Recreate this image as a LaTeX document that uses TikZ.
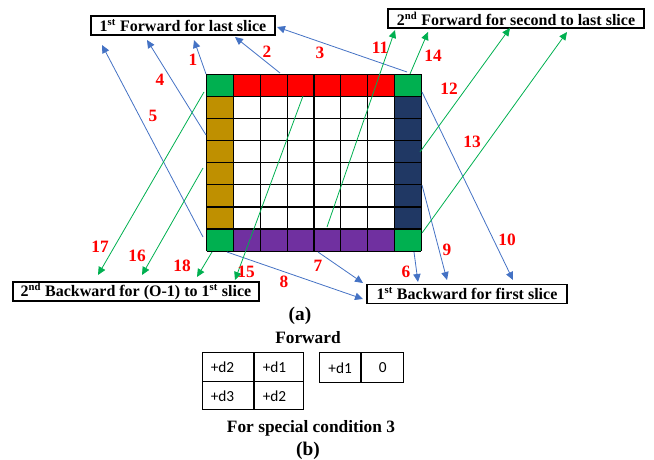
\documentclass[tikz,border=0pt]{standalone}
\usepackage{fontspec}
\setmainfont{Liberation Serif}
\newfontfamily\tabfont{Carlito}
\usetikzlibrary{arrows.meta}
\definecolor{cgreen}{HTML}{00B050}
\definecolor{cred}{HTML}{FF0000}
\definecolor{cgold}{HTML}{BF9000}
\definecolor{cnavy}{HTML}{203864}
\definecolor{cpurple}{HTML}{7030A0}
\definecolor{cblue}{HTML}{4472C4}
\tikzset{
  lbox/.style={draw=black, line width=0.9pt, fill=white, inner sep=0pt, minimum height=14.25pt, font=\bfseries\fontsize{12}{14}\selectfont},
  num/.style={text=cred, font=\bfseries\fontsize{13}{15}\selectfont, inner sep=0pt},
  barrow/.style={draw=cblue, line width=0.6pt, -{Triangle[length=6pt,width=5.5pt]}},
  garrow/.style={draw=cgreen, line width=0.6pt, -{Triangle[length=6pt,width=5.5pt]}},
  tcell/.style={draw=black, line width=0.75pt, anchor=north west, inner ysep=0pt, inner xsep=6pt, align=left, font=\tabfont\fontsize{11.5}{13}\selectfont},
  captext/.style={font=\bfseries\fontsize{13}{15}\selectfont, inner sep=0pt},
  caplab/.style={font=\bfseries\fontsize{14.5}{16}\selectfont, inner sep=0pt}
}
\begin{document}
\begin{tikzpicture}[x=0.75pt,y=-0.75pt]
\useasboundingbox (0,0) rectangle (654,460);
% grid
\def\cw{26.8}\def\ch{22.1}\def\gx{206.7}\def\gy{74.3}
\foreach \i in {1,...,6}{
  \fill[cred] ({\gx+\i*\cw},{\gy}) rectangle ++(\cw,\ch);
  \fill[cpurple] ({\gx+\i*\cw},{\gy+7*\ch}) rectangle ++(\cw,\ch);
  \fill[cgold] ({\gx},{\gy+\i*\ch}) rectangle ++(\cw,\ch);
  \fill[cnavy] ({\gx+7*\cw},{\gy+\i*\ch}) rectangle ++(\cw,\ch);
}
\foreach \a/\b in {0/0,7/0,0/7,7/7}{
  \fill[cgreen] ({\gx+\a*\cw},{\gy+\b*\ch}) rectangle ++(\cw,\ch);
}
\foreach \i in {0,...,8}{
  \draw[line width=0.9pt] ({\gx+\i*\cw},{\gy}) -- ({\gx+\i*\cw},{\gy+8*\ch});
  \draw[line width=0.9pt] ({\gx},{\gy+\i*\ch}) -- ({\gx+8*\cw},{\gy+\i*\ch});
}
% boxes
\node[lbox, minimum width=138pt] (fa) at (183,25.5) {1\textsuperscript{st} Forward for last slice};
\node[lbox, minimum width=192pt] (fb) at (516,18.5) {2\textsuperscript{nd} Forward for second to last slice};
\node[lbox, minimum width=184.5pt] (bc) at (136,291.5) {2\textsuperscript{nd} Backward for (O-1) to 1\textsuperscript{st} slice};
\node[lbox, minimum width=150pt] (bd) at (467,293.7) {1\textsuperscript{st} Backward for first slice};
% arrow endpoints
\coordinate (s1) at (206,74);   \coordinate (t1) at (194,40);
\coordinate (s2) at (280,73);   \coordinate (t2) at (235,37);
\coordinate (s3) at (407,72);   \coordinate (t3) at (277,27);
\coordinate (s4) at (206,135);  \coordinate (t4) at (147,40);
\coordinate (s5) at (203,237);  \coordinate (t5) at (102,45);
\coordinate (s6) at (414,252);  \coordinate (t6) at (418,282);
\coordinate (s7) at (318,252);  \coordinate (t7) at (363,283);
\coordinate (s8) at (227,252);  \coordinate (t8) at (363,299);
\coordinate (s9) at (422,185);  \coordinate (t9) at (447,280);
\coordinate (s10) at (422,92);  \coordinate (t10) at (513,280);
\coordinate (s11) at (327,227); \coordinate (t11) at (395,30);
\coordinate (s12) at (420,152); \coordinate (t12) at (510,28);
\coordinate (s13) at (422,233); \coordinate (t13) at (567,32);
\coordinate (s14) at (410,74);  \coordinate (t14) at (428,32);
\coordinate (s15) at (303,96);  \coordinate (t15) at (235,280);
\coordinate (s16) at (203,168); \coordinate (t16) at (142,275);
\coordinate (s17) at (204,92);  \coordinate (t17) at (98,275);
\coordinate (s18) at (212,252); \coordinate (t18) at (197,277);
\foreach \k in {1,...,10}{ \draw[barrow] (s\k) -- (t\k); }
\foreach \k in {11,...,18}{ \draw[garrow] (s\k) -- (t\k); }
% numbers
\node[num] (n1) at (193,60) {1};
\node[num] (n2) at (267,52) {2};
\node[num] (n3) at (320,53) {3};
\node[num] (n4) at (160,80) {4};
\node[num] (n5) at (153,116) {5};
\node[num] (n6) at (406,272) {6};
\node[num] (n7) at (318,266) {7};
\node[num] (n8) at (284,282) {8};
\node[num] (n9) at (447,250) {9};
\node[num] (n10) at (507,240) {10};
\node[num] (n11) at (380,48) {11};
\node[num] (n12) at (449,89) {12};
\node[num] (n13) at (472,142) {13};
\node[num] (n14) at (433,56) {14};
\node[num] (n15) at (246,272) {15};
\node[num] (n16) at (137,256) {16};
\node[num] (n17) at (100,247) {17};
\node[num] (n18) at (182,266) {18};
% captions
\node[caplab] (ca) at (300,316) {(a)};
\node[captext] (fw) at (308,338) {Forward};
% table b
\node[tcell, minimum height=21.75pt, text width=26.25pt] (c11) at (202.3,352.3) {+d2};
\node[tcell, minimum height=21.75pt, text width=24.75pt] (c12) at (254.3,352.3) {+d1};
\node[tcell, minimum height=21pt, text width=26.25pt] (c21) at (202.3,381.3) {+d3};
\node[tcell, minimum height=21pt, text width=24.75pt] (c22) at (254.3,381.3) {+d2};
\node[tcell, minimum height=22.5pt, text width=17.75pt, inner xsep=6.5pt] (r1) at (319.3,352.3) {+d1};
\node[tcell, minimum height=22.5pt, minimum width=31.5pt, inner xsep=0pt, align=center] (r2) at (r1.north east) {0};
\node[captext] (sc) at (311,428) {For special condition 3};
\node[caplab] (cb) at (308,451) {(b)};
\end{tikzpicture}
\end{document}
